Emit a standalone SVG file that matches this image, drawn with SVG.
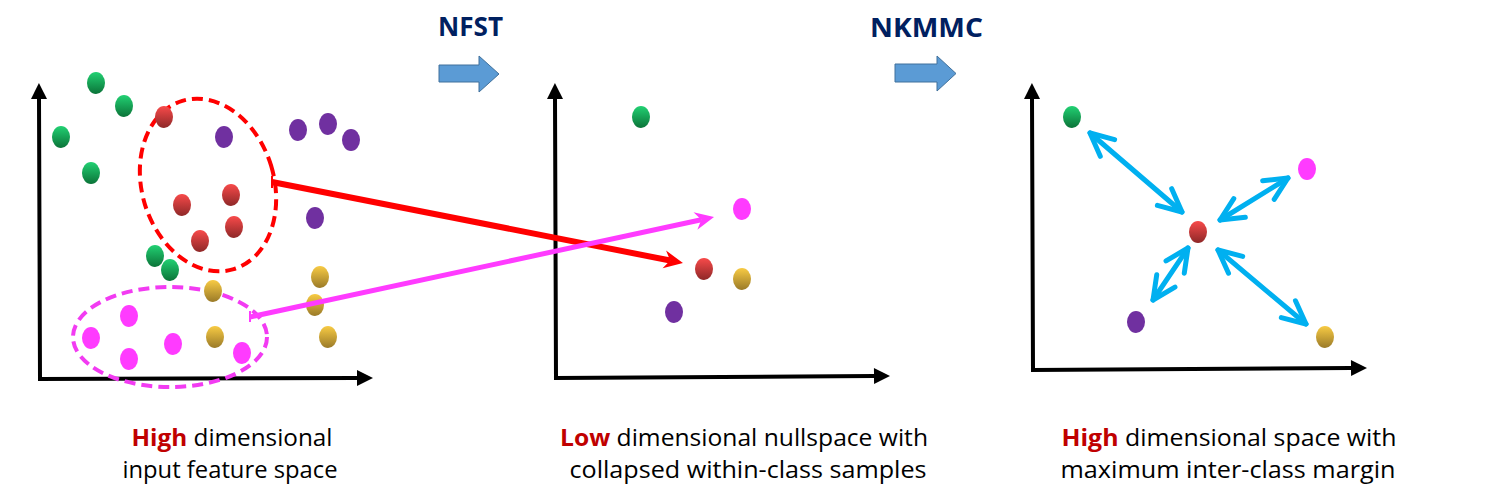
<svg xmlns="http://www.w3.org/2000/svg" width="1511" height="499" viewBox="0 0 1511 499">
<defs>
<style>
.axis{fill:none;stroke:#000;stroke-width:4;marker-start:url(#axh);marker-end:url(#axh)}
.g{fill:url(#gG)}.r{fill:url(#gR)}.y{fill:url(#gY)}.p{fill:#7030A0}.m{fill:#FF3BFF}
.title{font-family:"Open Sans","Liberation Sans",sans-serif;font-weight:bold;font-size:27px;fill:#002060}
.lbl{font-family:"Open Sans","Liberation Sans",sans-serif;font-size:23px;fill:#000;text-anchor:middle}
.hi{font-weight:bold;fill:#C00000}
.blk{fill:#5B9BD5;stroke:#41719C;stroke-width:1}
.cy{fill:none;stroke:#00B0F0;stroke-width:5;stroke-linecap:round;marker-start:url(#chev);marker-end:url(#chev)}
</style>
<linearGradient id="gG" x1="0" y1="0" x2="0" y2="1"><stop offset="0" stop-color="#22D173"/><stop offset="1" stop-color="#0B7338"/></linearGradient>
<linearGradient id="gR" x1="0" y1="0" x2="0" y2="1"><stop offset="0" stop-color="#F84A4A"/><stop offset="1" stop-color="#8E2828"/></linearGradient>
<linearGradient id="gY" x1="0" y1="0" x2="0" y2="1"><stop offset="0" stop-color="#F8CB44"/><stop offset="1" stop-color="#9A7A28"/></linearGradient>
<marker id="axh" markerUnits="userSpaceOnUse" orient="auto-start-reverse" refX="0" refY="0" markerWidth="20" markerHeight="20" viewBox="-2 -10 20 20" overflow="visible"><path d="M0,-8 L16,0 L0,8 Z" fill="#000"/></marker>
<marker id="hR" markerUnits="userSpaceOnUse" orient="auto" refX="0" refY="0" overflow="visible"><path d="M13,0 L-6,-9 L0,0 L-6,9 Z" fill="#FF0000"/></marker>
<marker id="hM" markerUnits="userSpaceOnUse" orient="auto" refX="0" refY="0" overflow="visible"><path d="M13,0 L-6,-9 L0,0 L-6,9 Z" fill="#FF3BFF"/></marker>
<marker id="chev" markerUnits="userSpaceOnUse" orient="auto-start-reverse" refX="0" refY="0" overflow="visible"><path d="M-23,-11 L0,0 L-23,11" fill="none" stroke="#00B0F0" stroke-width="5" stroke-linecap="round" stroke-linejoin="round"/></marker>
</defs>
<rect width="1511" height="499" fill="#fff"/>

<g id="panel-input">
<path class="axis" d="M39,99 L40,379 L357,378"/>
<ellipse cx="208" cy="185" rx="66" ry="88" transform="rotate(-17 208 185)" fill="none" stroke="#FF0000" stroke-width="4" stroke-dasharray="11 6"/>
<ellipse cx="170" cy="337" rx="97" ry="50" fill="none" stroke="#F23BF2" stroke-width="4" stroke-dasharray="11 6"/>
<ellipse class="g" cx="96" cy="83" rx="9" ry="11"/>
<ellipse class="g" cx="124" cy="106" rx="9" ry="11"/>
<ellipse class="g" cx="61" cy="137" rx="9" ry="11"/>
<ellipse class="g" cx="91" cy="173" rx="9" ry="11"/>
<ellipse class="g" cx="155" cy="256" rx="9" ry="11"/>
<ellipse class="g" cx="170" cy="270" rx="9" ry="11"/>
<ellipse class="r" cx="164" cy="117" rx="9" ry="11"/>
<ellipse class="r" cx="182" cy="205" rx="9" ry="11"/>
<ellipse class="r" cx="231" cy="195" rx="9" ry="11"/>
<ellipse class="r" cx="234" cy="227" rx="9" ry="11"/>
<ellipse class="r" cx="200" cy="241" rx="9" ry="11"/>
<ellipse class="p" cx="224" cy="137" rx="9" ry="11"/>
<ellipse class="p" cx="298" cy="130" rx="9" ry="11"/>
<ellipse class="p" cx="328" cy="124" rx="9" ry="11"/>
<ellipse class="p" cx="351" cy="140" rx="9" ry="11"/>
<ellipse class="p" cx="315" cy="218" rx="9" ry="11"/>
<ellipse class="y" cx="213" cy="291" rx="9" ry="11"/>
<ellipse class="y" cx="320" cy="277" rx="9" ry="11"/>
<ellipse class="y" cx="315" cy="305" rx="9" ry="11"/>
<ellipse class="y" cx="215" cy="337" rx="9" ry="11"/>
<ellipse class="y" cx="328" cy="337" rx="9" ry="11"/>
<ellipse class="m" cx="129" cy="316" rx="9" ry="11"/>
<ellipse class="m" cx="91" cy="338" rx="9" ry="11"/>
<ellipse class="m" cx="129" cy="359" rx="9" ry="11"/>
<ellipse class="m" cx="173" cy="344" rx="9" ry="11"/>
<ellipse class="m" cx="242" cy="353" rx="9" ry="11"/>
</g>

<g id="panel-nullspace">
<path class="axis" d="M555,99 L556,378 L874,376"/>
<ellipse class="g" cx="641" cy="117" rx="9" ry="11"/>
<ellipse class="m" cx="742" cy="209" rx="9" ry="11"/>
<ellipse class="r" cx="704" cy="269" rx="9" ry="11"/>
<ellipse class="y" cx="742" cy="279" rx="9" ry="11"/>
<ellipse class="p" cx="674" cy="312" rx="9" ry="11"/>
</g>

<g id="panel-margin">
<path class="axis" d="M1032,99 L1033,370 L1351,368"/>
<ellipse class="g" cx="1072" cy="117" rx="9" ry="11"/>
<ellipse class="m" cx="1307" cy="169" rx="9" ry="11"/>
<ellipse class="r" cx="1198" cy="232" rx="9" ry="11"/>
<ellipse class="p" cx="1136" cy="322" rx="9" ry="11"/>
<ellipse class="y" cx="1325" cy="337" rx="9" ry="11"/>
</g>

<g id="step-nfst">
<text class="title" x="438" y="36" textLength="65" lengthAdjust="spacingAndGlyphs">NFST</text>
<polygon class="blk" points="439,65 479,65 479,56 499,74 479,92 479,82 439,82"/>
</g>
<g id="step-nkmmc">
<text class="title" x="870" y="37" textLength="113" lengthAdjust="spacingAndGlyphs">NKMMC</text>
<polygon class="blk" points="895,64 937,64 937,56 956,73.5 937,91 937,82 895,82"/>
</g>

<g id="connectors">
<line x1="272" y1="182" x2="670.2" y2="260.5" stroke="#FF0000" stroke-width="6" marker-end="url(#hR)"/>
<line x1="272" y1="176" x2="272" y2="188" stroke="#FF0000" stroke-width="2"/>
<line x1="250" y1="317" x2="701.3" y2="219.7" stroke="#FF3BFF" stroke-width="5" marker-end="url(#hM)"/>
<line x1="250" y1="311" x2="250" y2="322" stroke="#FF3BFF" stroke-width="2"/>
<line class="cy" x1="1090" y1="133" x2="1182" y2="212"/>
<line class="cy" x1="1288" y1="178" x2="1220" y2="220"/>
<line class="cy" x1="1188" y1="248" x2="1153" y2="300"/>
<line class="cy" x1="1218" y1="250" x2="1306" y2="324"/>
</g>

<g id="labels">
<text class="lbl" x="232" y="446" textLength="201" lengthAdjust="spacingAndGlyphs"><tspan class="hi">High</tspan> dimensional</text>
<text class="lbl" x="230" y="478" textLength="215" lengthAdjust="spacingAndGlyphs">input feature space</text>
<text class="lbl" x="744" y="446" textLength="368" lengthAdjust="spacingAndGlyphs"><tspan class="hi">Low</tspan> dimensional nullspace with</text>
<text class="lbl" x="748" y="478" textLength="357" lengthAdjust="spacingAndGlyphs">collapsed within-class samples</text>
<text class="lbl" x="1229" y="446" textLength="335" lengthAdjust="spacingAndGlyphs"><tspan class="hi">High</tspan> dimensional space with</text>
<text class="lbl" x="1228" y="478" textLength="335" lengthAdjust="spacingAndGlyphs">maximum inter-class margin</text>
</g>
</svg>
